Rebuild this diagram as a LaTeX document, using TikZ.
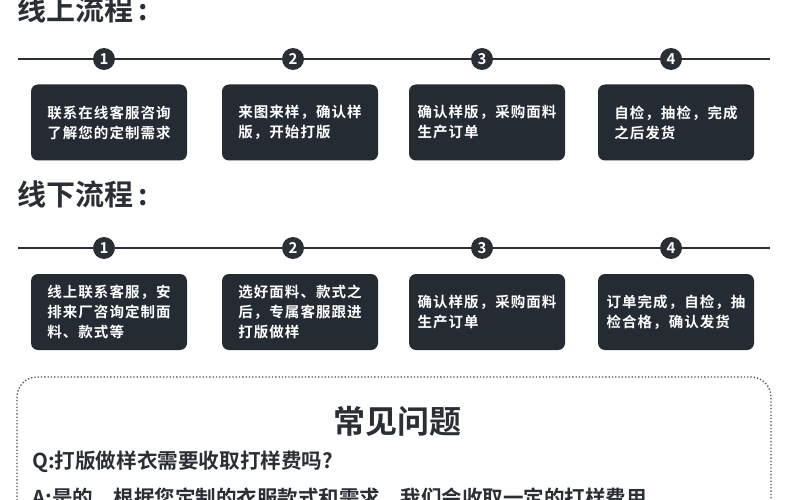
\documentclass[tikz,border=0pt]{standalone}
\usepackage{fontspec}
\setmainfont{Noto Sans CJK SC}[BoldFont={Noto Sans CJK SC Bold}]
\newfontfamily\boxfont{Noto Sans CJK SC Bold}[LetterSpace=7]
\definecolor{boxdark}{HTML}{252B33}
\definecolor{inkdark}{HTML}{2A2F36}
\definecolor{dotgray}{HTML}{4A4F55}
\tikzset{
  stepbox/.style={fill=boxdark, rounded corners=7pt, minimum width=156pt, minimum height=76pt,
    text=white, align=left, font=\boxfont\fontsize{14.5}{20}\selectfont, inner sep=0pt},
  numc/.style={circle, fill=inkdark, minimum size=22pt, inner sep=0pt, text=white,
    font=\bfseries\fontsize{15}{15}\selectfont},
  tline/.style={draw=inkdark, line width=2pt},
  title/.style={text=inkdark, font=\bfseries\fontsize{29}{29}\selectfont, inner sep=0pt, anchor=west},
}
\begin{document}
\begin{tikzpicture}[x=1pt,y=-1pt]
\useasboundingbox (0,0) rectangle (790,500);
% online
\node[title] (t1) at (17,9) {线上流程\kern5pt:};
\coordinate (a1) at (18,59);
\coordinate (a2) at (770,59);
\draw[tline] (a1) -- (a2);
\node[numc] (u1) at (104,59) {1};
\node[numc] (u2) at (293,59) {2};
\node[numc] (u3) at (482,59) {3};
\node[numc] (u4) at (671,59) {4};
\node[stepbox] (ub1) at (109,122.5) {联系在线客服咨询\\了解您的定制需求};
\node[stepbox] (ub2) at (300,122.5) {来图来样，确认样\\版，开始打版};
\node[stepbox] (ub3) at (487,122.5) {确认样版，采购面料\\生产订单};
\node[stepbox] (ub4) at (676,122.5) {自检，抽检，完成\\之后发货};
% offline
\node[title] (t2) at (17,194) {线下流程\kern5pt:};
\coordinate (b1) at (18,248);
\coordinate (b2) at (770,248);
\draw[tline] (b1) -- (b2);
\node[numc] (d1) at (104,248) {1};
\node[numc] (d2) at (293,248) {2};
\node[numc] (d3) at (482,248) {3};
\node[numc] (d4) at (671,248) {4};
\node[stepbox] (db1) at (109,312) {线上联系客服，安\\排来厂咨询定制面\\料、款式等};
\node[stepbox] (db2) at (300,312) {选好面料、款式之\\后，专属客服跟进\\打版做样};
\node[stepbox] (db3) at (487,312) {确认样版，采购面料\\生产订单};
\node[stepbox] (db4) at (676,312) {订单完成，自检，抽\\检合格，确认发货};
% FAQ
\coordinate (f1) at (17,530);
\coordinate (f2) at (771,377);
\coordinate (f3) at (771,530);
\draw[dotgray, line width=1.3pt, dotted, rounded corners=20pt] (f1) |- (f2) -- (f3);
\node[text=inkdark, font=\bfseries\fontsize{32}{32}\selectfont, inner sep=0pt] (faq) at (397,421) {常见问题};
\node[text=inkdark, font=\bfseries\fontsize{20.6}{20}\selectfont, inner sep=0pt, anchor=west] (q) at (32,462) {Q:打版做样衣需要收取打样费吗?};
\node[text=inkdark, font=\bfseries\fontsize{20.5}{20}\selectfont, inner sep=0pt, anchor=west] (ans) at (32,498) {A:是的，根据您定制的衣服款式和需求，我们会收取一定的打样费用};
\end{tikzpicture}
\end{document}
